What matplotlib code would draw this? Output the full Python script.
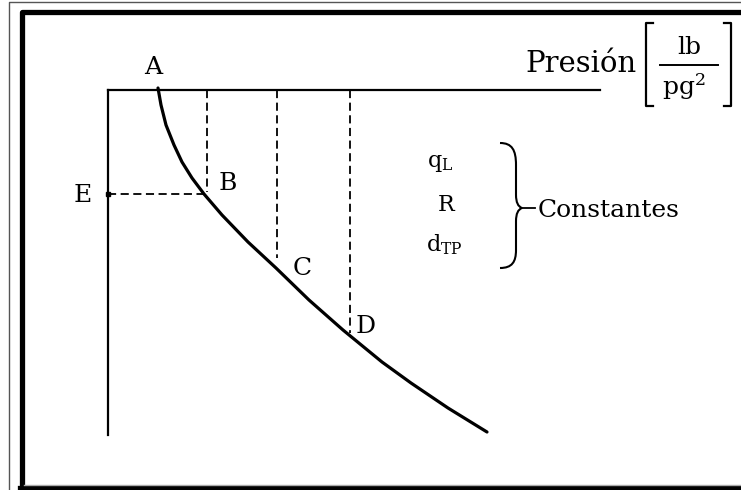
import numpy as np
import matplotlib.pyplot as plt
from matplotlib.path import Path
from matplotlib.patches import PathPatch

plt.rcParams['font.family'] = 'DejaVu Serif'
plt.rcParams['mathtext.fontset'] = 'dejavuserif'

# Curve pressure vs depth (drawing units, depth grows downward)
curve_p = [158, 161, 166, 174, 182, 192, 204, 222, 248, 276, 309, 343, 382, 411, 448, 487]
curve_d = [88, 105, 125, 145, 162, 178, 194, 215, 242, 268, 300, 330, 362, 383, 408, 432]

# Named points on the curve
point_names = ['A', 'B', 'C', 'D']
point_p = [158, 204, 277, 350]
point_d = [90, 194, 266, 336]
label_dx = [-5, 24, 25, 16]
label_dy = [-22, -11, 2, -10]
# dashed drop lines from the pressure axis (x position, lower end)
drop_p = [207, 277, 350]
drop_end = [192, 258, 333]

# Axes of the diagram
origin_p, origin_d = 108, 90
axis_p_end = 600
axis_d_end = 435

constants = ['q$_\\mathrm{L}$', 'R', 'd$_\\mathrm{TP}$']
constants_y = [163, 205, 245]
constants_x = [440, 446, 444]

fig = plt.figure(figsize=(7.41, 4.90), dpi=100)
ax = fig.add_axes([0, 0, 1, 1])
ax.set_xlim(0, 741)
ax.set_ylim(490, 0)
ax.axis('off')

# picture frame
ax.plot([9, 9, 760], [495, 2, 2], color='#555555', lw=1.0)
ax.plot([21.5, 21.5, 760], [487.5, 12, 12], color='black', lw=3.8, solid_capstyle='butt')
ax.plot([20, 760], [487.5, 487.5], color='black', lw=3.8)
ax.plot([24, 760], [484.5, 484.5], color='#aaaaaa', lw=1.0)

# axes lines
ax.plot([origin_p, axis_p_end], [origin_d, origin_d], color='black', lw=1.6)
ax.plot([origin_p, origin_p], [origin_d, axis_d_end], color='black', lw=1.6)

# curve
ax.plot(curve_p, curve_d, color='black', lw=2.3, solid_capstyle='round', solid_joinstyle='round')

# dashed verticals to B, C, D
for p, d in zip(drop_p, drop_end):
    ax.plot([p, p], [origin_d, d], color='black', lw=1.3, ls=(0, (4.5, 2.5)))

# dashed horizontal E-B
ax.plot([origin_p, point_p[1]], [point_d[1], point_d[1]], color='black', lw=1.3, ls=(0, (4.5, 2.5)))
ax.plot([origin_p], [point_d[1]], 's', color='black', ms=3)

for name, p, d, dx, dy in zip(point_names, point_p, point_d, label_dx, label_dy):
    ax.text(p + dx, d + dy, name, fontsize=18, ha='center', va='center')
ax.text(origin_p - 25, point_d[1] + 1, 'E', fontsize=18, ha='center', va='center')

# pressure label with units in brackets
ax.text(525, 64, 'Presión', fontsize=21, ha='left', va='center')
ax.plot([653, 646, 646, 653], [23, 23, 106, 106], color='black', lw=1.6)
ax.plot([724, 731, 731, 724], [23, 23, 106, 106], color='black', lw=1.6)
ax.plot([660, 718], [65, 65], color='black', lw=1.4)
ax.text(689, 48, 'lb', fontsize=18, ha='center', va='center')
ax.text(684, 87, 'pg$^2$', fontsize=18, ha='center', va='center')

# constants and brace
for t, x, y in zip(constants, constants_x, constants_y):
    ax.text(x, y, t, fontsize=16, ha='center', va='center')

verts = [(500, 143), (512, 143), (516, 150), (516, 165),
         (516, 195), (516, 206), (522, 208),
         (516, 210), (516, 221), (516, 250),
         (516, 262), (512, 268), (500, 268)]
codes = [Path.MOVETO, Path.CURVE4, Path.CURVE4, Path.CURVE4,
         Path.LINETO, Path.CURVE3, Path.CURVE3,
         Path.CURVE3, Path.CURVE3, Path.LINETO,
         Path.CURVE4, Path.CURVE4, Path.CURVE4]
ax.add_patch(PathPatch(Path(verts, codes), fill=False, lw=1.5, color='black'))
ax.plot([522, 535], [208, 208], color='black', lw=1.3)
ax.text(538, 210, 'Constantes', fontsize=18, ha='left', va='center')

fig.savefig('out.png', dpi=100)
